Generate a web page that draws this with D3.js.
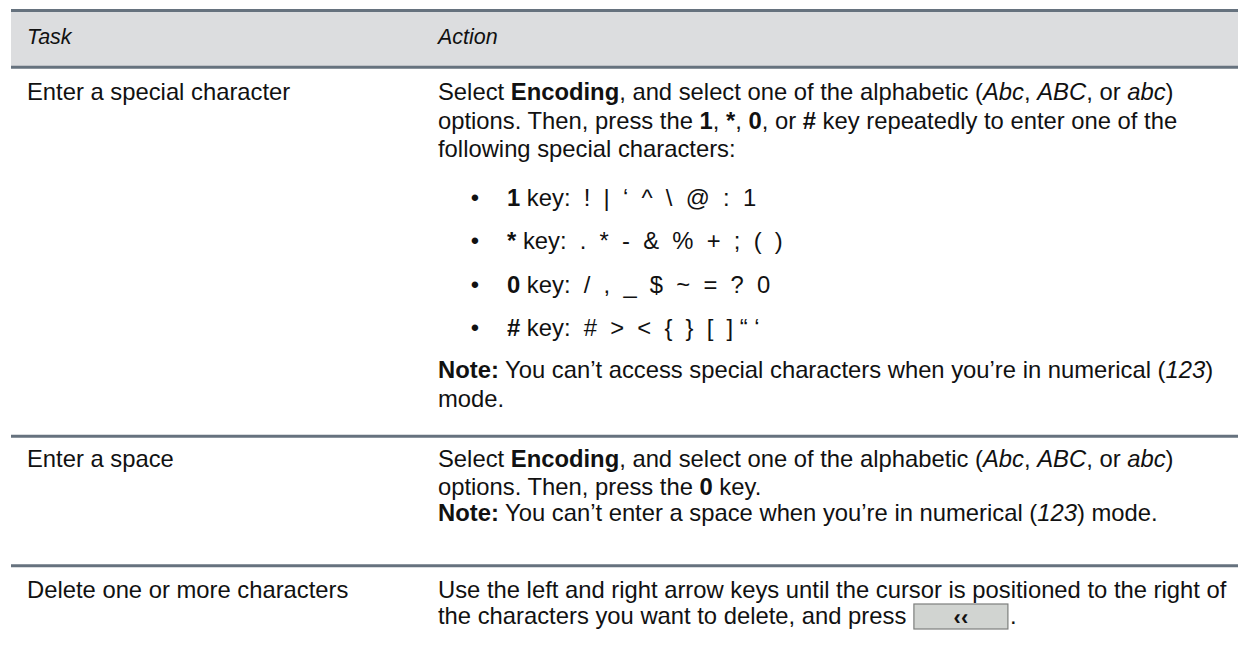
<!DOCTYPE html>
<html><head><meta charset="utf-8">
<script src="https://cdn.jsdelivr.net/npm/d3@7"></script>
<style>
html,body{margin:0;padding:0;background:#fff;}
svg text{font-family:"Liberation Sans",Arial,sans-serif;white-space:pre;fill:#111;}
</style></head>
<body>
<svg id="c" width="1248" height="653"></svg>
<script>
// ---- data ----
const headers = ["Task", "Action"];
const tasks = ["Enter a special character", "Enter a space", "Delete one or more characters"];
// rich text segments: [text, style]  "" regular, "b" bold, "i" italic
const row1Lines = [
  [["Select ",""],["Encoding","b"],[", and select one of the alphabetic (",""],["Abc","i"],[", ",""],["ABC","i"],[", or ",""],["abc","i"],[")",""]],
  [["options. Then, press the ",""],["1","b"],[", ",""],["*","b"],[", ",""],["0","b"],[", or ",""],["#","b"],[" key repeatedly to enter one of the",""]],
  [["following special characters:",""]]
];
const bullets = [
  [["1","b"],[" key:  !  |  \u2018  ^  \\  @  :  1",""]],
  [["*","b"],[" key:  .  *  -  &  %  +  ;  (  )",""]],
  [["0","b"],[" key:  /  ,  _  $  ~  =  ?  0",""]],
  [["#","b"],[" key:  #  >  <  {  }  [  ] \u201c \u2018",""]]
];
const row1Note = [
  [["Note:","b"],[" You can\u2019t access special characters when you\u2019re in numerical (",""],["123","i"],[")",""]],
  [["mode.",""]]
];
const row2Lines = [
  [["Select ",""],["Encoding","b"],[", and select one of the alphabetic (",""],["Abc","i"],[", ",""],["ABC","i"],[", or ",""],["abc","i"],[")",""]],
  [["options. Then, press the ",""],["0","b"],[" key.",""]]
];
const row2Note = [
  [["Note:","b"],[" You can\u2019t enter a space when you\u2019re in numerical (",""],["123","i"],[") mode.",""]]
];
const row3Lines = [
  [["Use the left and right arrow keys until the cursor is positioned to the right of",""]],
  [["the characters you want to delete, and press ",""]]
];
const buttonLabel = "\u2039\u2039";

// ---- layout ----
const svg = d3.select("#c");
const FS = 23.8, HFS = 21.5;
const x0 = 11, x1 = 1238;
const colTask = 27, colAction = 438, bulletX = 475, bulletTextX = 507;
const lineColor = "#66727e";

// header band
svg.append("rect").attr("x", x0).attr("y", 11).attr("width", x1 - x0).attr("height", 56).attr("fill", "#dcdddf");
const hlines = [10.5, 67.3, 436.2, 565.7];
svg.selectAll("line.h").data(hlines).join("line").attr("class","h")
  .attr("x1", x0).attr("x2", x1).attr("y1", d => d).attr("y2", d => d)
  .attr("stroke", lineColor).attr("stroke-width", 3);

svg.selectAll("text.hd").data(headers).join("text").attr("class","hd")
  .attr("x", (d,i) => i===0 ? colTask : colAction).attr("y", 44)
  .attr("font-size", HFS).attr("font-style","italic").text(d => d);

const taskY = [100, 467, 598];
svg.selectAll("text.task").data(tasks).join("text").attr("class","task")
  .attr("x", colTask).attr("y", (d,i) => taskY[i]).attr("font-size", FS).text(d => d);

function rich(lines, x, y0, dy) {
  const out = [];
  lines.forEach((segs, li) => {
    const t = svg.append("text").attr("x", x).attr("y", y0 + li*dy).attr("font-size", FS);
    t.selectAll("tspan").data(segs).join("tspan")
      .attr("font-weight", d => d[1]==="b" ? "bold" : null)
      .attr("font-style", d => d[1]==="i" ? "italic" : null)
      .text(d => d[0]);
    out.push(t);
  });
  return out;
}
rich(row1Lines, colAction, 100, 28.5);
bullets.forEach((b, i) => {
  const y = 206 + i*43.3;
  svg.append("text").attr("x", bulletX).attr("y", y).attr("font-size", FS).attr("text-anchor","middle").text("\u2022");
  rich([b], bulletTextX, y, 0);
});
rich(row1Note, colAction, 378, 29);
rich(row2Lines, colAction, 467, 27.5);
rich(row2Note, colAction, 521, 0);
const r3 = rich(row3Lines, colAction, 598, 26);
const w = r3[1].node().getComputedTextLength();
const bx = colAction + w + 1, bw = 94, by = 604, bh = 25;
svg.append("rect").attr("x", bx).attr("y", by).attr("width", bw).attr("height", bh)
  .attr("fill", "#d1d4d1").attr("stroke", "#7d7f7d").attr("stroke-width", 1.2);
svg.append("text").attr("x", bx + bw/2).attr("y", 624.5).attr("text-anchor","middle")
  .attr("font-size", 22).attr("font-weight","bold").attr("fill", "#1a1a1a").text(buttonLabel);
svg.append("text").attr("x", bx + bw + 2).attr("y", 624).attr("font-size", FS).text(".");
</script>
</body></html>
